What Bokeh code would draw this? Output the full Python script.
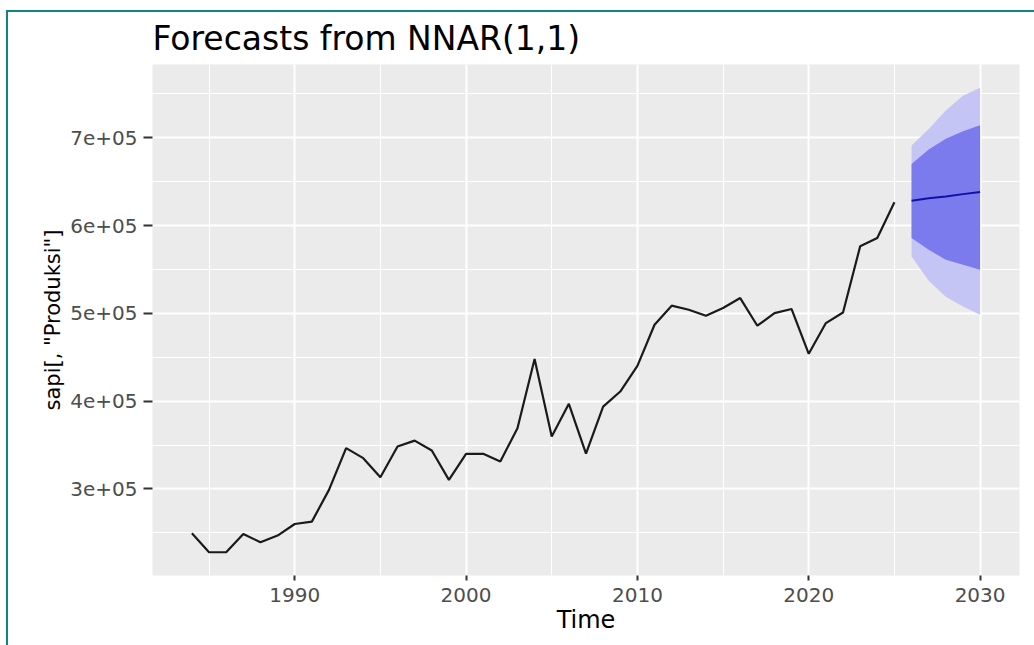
from bokeh.plotting import figure
from bokeh.models import FixedTicker, Range1d, InlineStyleSheet
from bokeh.embed import file_html
from bokeh.resources import INLINE

# ---- data ----
years = list(range(1984, 2026))
produksi = [249500, 227800, 227800, 248700, 239200, 246800, 260000, 262700, 298900, 346400,
            335000, 313300, 348200, 355000, 343700, 310300, 339900, 339900, 331200, 369200,
            447900, 359700, 396900, 340300, 393800, 410900, 440200, 487000, 508700, 504100,
            497300, 506000, 517400, 485900, 500300, 504900, 453900, 488900, 501000, 576300,
            585900, 626500]

fc_years = [2026, 2027, 2028, 2029, 2030]
fc_mean = [628200, 631200, 633100, 635800, 638100]
lo80 = [585700, 572400, 561000, 555300, 549600]
hi80 = [670000, 686600, 699000, 707400, 714300]
lo95 = [564700, 537000, 519000, 507700, 498300]
hi95 = [691200, 710000, 731000, 748000, 757000]

x_ticks = [1990, 2000, 2010, 2020, 2030]
x_minor = [1985, 1995, 2005, 2015, 2025]
x_labels = ["1990", "2000", "2010", "2020", "2030"]
y_ticks = [300000, 400000, 500000, 600000, 700000]
y_minor = [250000, 350000, 450000, 550000, 650000, 750000]
y_labels = ["3e+05", "4e+05", "5e+05", "6e+05", "7e+05"]

title_text = "Forecasts from NNAR(1,1)"
x_title = "Time"
y_title = 'sapi[, "Produksi"]'

# ggplot-style 5% expansion of the data range
all_x = years + fc_years
all_y = produksi + lo95 + hi95
xr = max(all_x) - min(all_x)
yr = max(all_y) - min(all_y)
x_range = Range1d(min(all_x) - 0.05 * xr, max(all_x) + 0.05 * xr)
y_range = Range1d(min(all_y) - 0.05 * yr, max(all_y) + 0.05 * yr)

FONT = "DejaVu Sans"
TEAL = "#108484"

p = figure(width=1030, height=641, output_backend="svg", toolbar_location=None,
           x_range=x_range, y_range=y_range,
           min_border_left=152, min_border_right=11, min_border_top=64, min_border_bottom=66)

p.background_fill_color = "#EBEBEB"
p.border_fill_color = "white"
p.outline_line_color = None

# teal frame of the picture (top and left edges)
p.stylesheets = [InlineStyleSheet(css=(
    ":host { position: relative; }\n"
    ":host::after { content: ''; position: absolute; left: 6px; top: 10px; right: -4px; bottom: -4px;"
    " border-top: 2px solid " + TEAL + "; border-left: 2px solid " + TEAL + ";"
    " pointer-events: none; z-index: 100; }"
))]

# title
p.title.text = title_text
p.title.text_font = FONT
p.title.text_font_size = "33px"
p.title.text_font_style = "normal"
p.title.text_color = "black"
p.title.align = "left"
p.title.standoff = 14

# axes
p.xaxis.ticker = FixedTicker(ticks=x_ticks, minor_ticks=x_minor)
p.yaxis.ticker = FixedTicker(ticks=y_ticks, minor_ticks=y_minor)
p.xaxis.major_label_overrides = {t: l for t, l in zip(x_ticks, x_labels)}
p.yaxis.major_label_overrides = {t: l for t, l in zip(y_ticks, y_labels)}

for ax in (p.xaxis, p.yaxis):
    ax.axis_line_color = None
    ax.minor_tick_line_color = None
    ax.major_tick_line_color = "#333333"
    ax.major_tick_line_width = 2
    ax.major_tick_in = 0
    ax.major_label_text_font = FONT
    ax.major_label_text_font_size = "20px"
    ax.major_label_text_color = "#4D4D4D"
    ax.axis_label_text_font = FONT
    ax.axis_label_text_font_style = "normal"
    ax.axis_label_text_color = "black"

p.xaxis.major_tick_out = 5
p.xaxis.major_label_standoff = 7
p.xaxis.axis_label = x_title
p.xaxis.axis_label_text_font_size = "24px"
p.xaxis.axis_label_standoff = 1

p.yaxis.major_tick_out = 9
p.yaxis.major_label_standoff = 6
p.yaxis.axis_label = y_title
p.yaxis.axis_label_text_font_size = "21px"
p.yaxis.axis_label_standoff = 2

# grid
for g in (p.xgrid, p.ygrid):
    g.grid_line_color = "white"
    g.grid_line_width = 2
    g.minor_grid_line_color = "white"
    g.minor_grid_line_width = 1

# forecast intervals
p.varea(x=fc_years, y1=lo95, y2=hi95, fill_color="#C5C5F5", fill_alpha=1)
p.varea(x=fc_years, y1=lo80, y2=hi80, fill_color="#7B7BEE", fill_alpha=1)
p.line(x=fc_years, y=fc_mean, line_color="#1010A8", line_width=2)

# observed series
p.line(x=years, y=produksi, line_color="#1A1A1A", line_width=2.2)

open("out.html", "w").write(file_html(p, INLINE))
